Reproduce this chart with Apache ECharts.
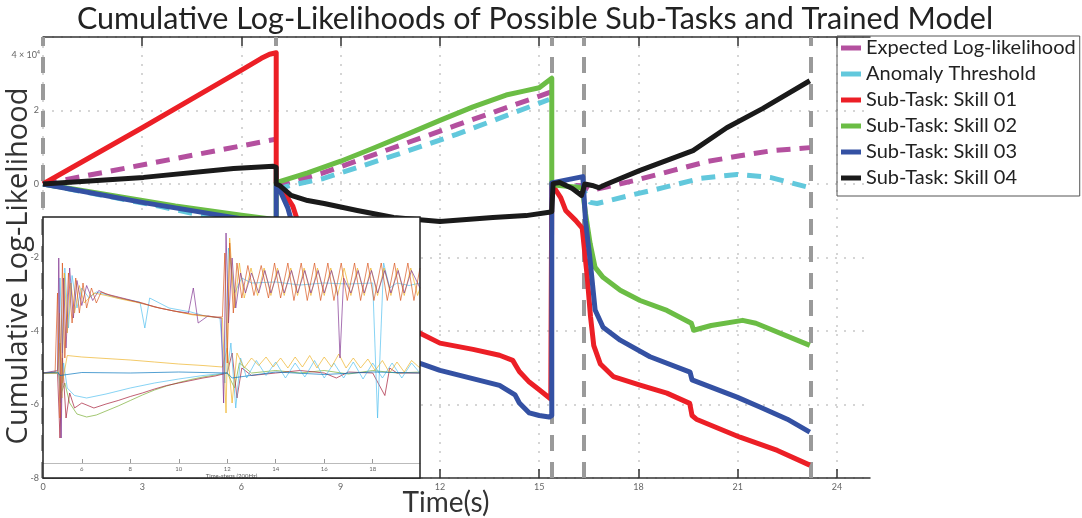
<!DOCTYPE html>
<html>
<head>
<meta charset="utf-8">
<title>Cumulative Log-Likelihoods</title>
<script src="https://cdn.jsdelivr.net/npm/echarts@6/dist/echarts.min.js"></script>
<style>
  html, body { margin: 0; padding: 0; background: #fff; }
  #chart { width: 1082px; height: 518px; }
</style>
</head>
<body>
<div id="chart"></div>
<script>
// time in seconds, values in units of 10^4
var xTicks = [0, 3, 6, 9, 12, 15, 18, 21, 24];
var dividerTimes = [0, 7.05, 15.38, 16.35, 23.2];

var expectedLL = [
  [0, 0], [7.05, 1.22], [7.05, '-'],
  [7.05, -0.05], [8.4, 0.28], [10.35, 0.91], [12.5, 1.6], [15.35, 2.5], [15.38, '-'],
  [15.4, 0.0], [16.3, -0.05], [16.54, -0.18], [17.9, 0.1], [19.05, 0.37], [20.07, 0.61],
  [21.07, 0.77], [22.07, 0.91], [23.18, 0.99]
];
var anomalyThreshold = [
  [0, 0], [3.5, -0.6], [7.05, -1.3], [7.05, '-'],
  [7.05, -0.15], [7.47, -0.04], [8.48, 0.15], [9.5, 0.45], [10.6, 0.77], [12.5, 1.35], [15.3, 2.3], [15.38, '-'],
  [15.4, 0.0], [16.3, -0.1], [16.54, -0.5], [16.75, -0.53], [17.75, -0.31], [18.75, -0.1],
  [19.86, 0.15], [20.98, 0.26], [21.98, 0.18], [23.18, -0.1]
];
var skill01 = [
  [0, 0], [3, 1.53], [6.0, 3.1], [6.6, 3.42], [6.85, 3.53], [7.05, 3.57], [7.05, 0.05],
  [7.3, -0.25], [7.55, -0.6], [7.75, -1.15], [8.0, -2.0], [8.5, -2.9], [9.5, -3.5], [10.5, -3.8],
  [11.4, -4.06], [12, -4.33], [13, -4.5], [13.8, -4.66], [14.2, -4.8], [14.3, -4.95], [14.4, -5.1],
  [14.7, -5.39], [15.0, -5.6], [15.35, -5.85], [15.38, 0.0], [15.65, -0.37], [15.8, -0.72],
  [16.1, -0.99], [16.3, -1.2], [16.45, -2.5], [16.55, -3.6], [16.65, -4.4], [16.85, -4.9],
  [17.24, -5.24], [18.05, -5.47], [18.86, -5.69], [19.55, -5.97], [19.62, -6.3], [19.75, -6.4],
  [21.07, -6.89], [22.2, -7.25], [23.18, -7.65]
];
var skill02 = [
  [0, 0], [2, -0.3], [4, -0.6], [6, -0.85], [7.05, -0.97], [7.05, 0.04], [8, 0.3], [9, 0.62],
  [10, 0.98], [11, 1.35], [12, 1.73], [13, 2.1], [14, 2.42], [14.5, 2.52], [15, 2.62], [15.38, 2.88],
  [15.38, -0.02], [16.3, -0.1], [16.4, -0.8], [16.54, -1.62], [16.69, -2.27], [16.93, -2.54],
  [17.45, -2.89], [18.05, -3.17], [18.86, -3.44], [19.6, -3.79], [19.67, -3.98], [20.2, -3.85],
  [21.15, -3.71], [21.55, -3.79], [23.18, -4.39]
];
var skill03 = [
  [0, 0], [3, -0.5], [5, -0.8], [7.05, -1.1], [7.05, -0.05], [7.15, -0.15], [7.4, -0.65],
  [7.55, -1.13], [7.8, -2.2], [8.3, -3.2], [9, -3.9], [10, -4.4], [11.4, -4.88], [12, -5.07],
  [13.8, -5.48], [14.27, -5.74], [14.4, -5.96], [14.7, -6.23], [15.0, -6.3], [15.3, -6.34],
  [15.38, -6.3], [15.38, 0.03], [16.32, 0.2], [16.4, -1.0], [16.53, -2.0], [16.69, -3.43],
  [16.93, -3.9], [17.45, -4.25], [18.35, -4.7], [19.56, -5.12], [19.62, -5.33], [20.98, -5.8],
  [21.67, -6.07], [22.5, -6.4], [23.18, -6.75]
];
var skill04 = [
  [0, 0], [3.04, 0.18], [5.76, 0.42], [6.96, 0.48], [7.05, 0.45], [7.05, 0.0], [7.15, -0.04],
  [7.5, -0.31], [8.0, -0.45], [8.5, -0.53], [9.5, -0.72], [10.6, -0.91], [12, -1.02], [13.6, -0.91],
  [14.6, -0.86], [15.3, -0.77], [15.38, -0.75], [15.42, 0.01], [15.62, 0.04], [16.0, -0.12],
  [16.28, -0.31], [16.38, 0.0], [16.6, -0.04], [16.8, -0.1], [17.05, 0.0], [18.05, 0.37],
  [19.65, 0.91], [20.67, 1.53], [21.75, 2.05], [23.18, 2.81]
];

// inset: raw sensor traces (time-steps axis)
var insetTicks = [6, 8, 10, 12, 14, 16, 18];
var insetBase = [
  [4.4, 0], [5, 0.02], [5.1, -0.05], [6, 0.01], [8, 0.0], [10, 0.02], [12, 0.0], [12.2, -0.1],
  [14, 0.02], [16, -0.03], [18, 0.02], [19.95, 0.0]
];
var insetUpperA = [
  [4.4, 0], [4.9, 0.02], [5.0, 1.6], [5.1, -0.9], [5.2, 2.2], [5.3, 0.3], [5.45, 2.0], [5.6, 1.0],
  [5.75, 1.9], [5.9, 1.2], [6.05, 1.8], [6.2, 1.3], [6.4, 1.7], [6.6, 1.4], [6.8, 1.62], [7.2, 1.55],
  [7.6, 1.5], [8.0, 1.45], [8.5, 1.4], [9.0, 1.32], [9.5, 1.27], [10.0, 1.22], [10.5, 1.18],
  [11.0, 1.15], [11.5, 1.12], [11.8, 1.12], [11.9, 2.4], [12.0, 0.2], [12.1, 2.6], [12.25, 1.2],
  [12.4, 2.2], [12.6, 1.5], [12.85, 2.15], [13.1, 1.55], [13.4, 2.15], [13.7, 1.5], [13.95, 2.2],
  [14.2, 1.5], [14.5, 2.2], [14.75, 1.45], [15.05, 2.2], [15.3, 1.45], [15.6, 2.2], [15.85, 1.45],
  [16.15, 2.2], [16.4, 1.45], [16.7, 2.2], [16.95, 1.45], [17.25, 2.2], [17.5, 1.45], [17.8, 2.2],
  [18.05, 1.45], [18.35, 2.2], [18.6, 1.45], [18.9, 2.2], [19.15, 1.45], [19.45, 2.2], [19.7, 1.45],
  [19.95, 2.1]
];
var insetUpperB = [
  [4.4, 0], [5.0, 0.05], [5.05, 2.3], [5.15, -1.3], [5.25, 1.9], [5.35, 0.5], [5.5, 2.1], [5.65, 1.1],
  [5.8, 1.85], [6.0, 1.35], [6.2, 1.75], [6.45, 1.45], [6.7, 1.65], [7.0, 1.58], [7.5, 1.52],
  [8.0, 1.46], [8.6, 1.38], [9.2, 1.3], [9.8, 1.24], [10.4, 1.2], [10.6, 1.7], [10.8, 1.0],
  [11.2, 1.14], [11.75, 1.1], [11.85, -0.6], [11.95, 2.8], [12.05, 1.0], [12.2, 2.3], [12.35, 1.3],
  [12.55, 2.0], [12.75, 1.6], [13.0, 2.0], [13.3, 1.6], [13.55, 2.05], [13.8, 1.6], [14.1, 2.05],
  [14.35, 1.6], [14.65, 2.05], [14.9, 1.6], [15.2, 2.05], [15.45, 1.6], [15.75, 2.05], [16.0, 1.6],
  [16.3, 2.05], [16.55, 1.6], [16.65, 0.3], [16.8, 1.9], [17.1, 1.6], [17.4, 2.05], [17.65, 1.6],
  [17.95, 2.05], [18.2, 1.6], [18.5, 2.05], [18.75, 1.6], [19.05, 2.05], [19.3, 1.6], [19.6, 2.05],
  [19.95, 1.7]
];
var insetUpperC = [
  [4.4, 0], [5.05, 0], [5.1, 1.9], [5.2, 0.4], [5.3, 2.1], [5.45, 0.9], [5.6, 1.95], [5.8, 1.3],
  [6.0, 1.7], [6.3, 1.5], [6.6, 1.62], [7.5, 1.5], [8.4, 1.42], [8.6, 0.9], [8.8, 1.5], [9.6, 1.3],
  [10.5, 1.22], [11.0, 1.15], [11.7, 1.1], [11.9, -0.2], [12.05, 2.5], [12.3, 1.6], [12.6, 1.9],
  [13, 1.8], [14, 1.82], [15, 1.76], [16, 1.8], [17, 1.78], [18, 1.8], [18.2, -0.9], [18.45, 2.2],
  [18.7, 1.7], [19, 1.8], [19.5, 1.75], [19.95, 1.8]
];
var insetUpperD = [
  [4.4, 0], [5.0, 0], [5.08, 1.2], [5.18, -0.5], [5.28, 2.0], [5.4, 0.8], [5.55, 1.8], [5.7, 1.2],
  [5.9, 1.75], [6.1, 1.4], [6.5, 1.6], [7, 1.55], [7.6, 1.48], [8.2, 1.42], [8.8, 1.35], [9.4, 1.28],
  [10, 1.22], [10.6, 1.16], [11.2, 1.13], [11.8, 1.1], [11.95, -0.8], [12.1, 2.7], [12.3, 1.3],
  [12.5, 2.2], [12.7, 1.5], [12.98, 2.1], [13.25, 1.55], [13.52, 2.1], [13.8, 1.55], [14.07, 2.1],
  [14.35, 1.55], [14.62, 2.1], [14.9, 1.55], [15.17, 2.1], [15.45, 1.55], [15.72, 2.1], [16.0, 1.55],
  [16.27, 2.1], [16.55, 1.55], [16.82, 2.1], [17.1, 1.55], [17.37, 2.1], [17.65, 1.55], [17.92, 2.1],
  [18.2, 1.55], [18.47, 2.1], [18.75, 1.55], [19.02, 2.1], [19.3, 1.55], [19.57, 2.1], [19.85, 1.55],
  [19.95, 1.7]
];
var insetMid = [
  [4.4, 0], [5.0, 0], [5.1, 0.6], [5.2, -0.2], [5.4, 0.35], [6, 0.32], [7, 0.29], [8, 0.26],
  [9, 0.22], [10, 0.18], [11, 0.15], [11.8, 0.12], [12.0, 0.5], [12.2, -0.6], [12.4, 0.4],
  [12.7, 0.1], [13, 0.3], [13.3, 0.15], [13.6, 0.32], [13.9, 0.12], [14.2, 0.3], [14.5, 0.1],
  [14.8, 0.32], [15.1, 0.12], [15.4, 0.35], [15.7, 0.1], [16, 0.32], [16.3, 0.12], [16.6, 0.38],
  [16.9, 0.1], [17.2, 0.3], [17.5, 0.1], [17.8, 0.28], [18.1, 0.05], [18.4, 0.25], [18.7, 0.0],
  [19.0, 0.22], [19.3, 0.02], [19.6, 0.25], [19.95, 0.1]
];
var insetLowA = [
  [4.4, 0], [5.05, 0], [5.15, -0.4], [5.3, -0.2], [5.5, -0.6], [5.8, -0.82], [6.2, -0.88],
  [6.6, -0.84], [7, -0.76], [7.5, -0.66], [8, -0.55], [8.5, -0.44], [9, -0.34], [9.5, -0.26],
  [10, -0.19], [10.5, -0.13], [11, -0.08], [11.5, -0.04], [12, 0], [12.3, -0.3], [12.5, 0.2],
  [13, 0.0], [14, 0.05], [15, 0.0], [16, 0.05], [17, -0.02], [18, 0.05], [19, 0.0], [19.95, 0.02]
];
var insetLowB = [
  [4.4, 0], [5.0, 0], [5.1, -1.3], [5.2, 0.3], [5.35, -0.9], [5.5, -0.4], [5.7, -0.7], [6.0, -0.6],
  [6.5, -0.7], [7, -0.62], [7.5, -0.55], [8, -0.47], [8.5, -0.4], [9, -0.32], [9.5, -0.25],
  [10, -0.2], [10.5, -0.15], [11, -0.1], [11.5, -0.06], [12, 0.0], [12.2, 0.4], [12.4, -0.5],
  [12.6, 0.1], [13, -0.05], [14, 0.0], [15, 0.05], [16, 0.0], [16.5, -0.1], [17, 0.02], [18, 0.0],
  [18.5, -0.45], [18.7, 0.1], [19, 0.0], [19.95, 0.0]
];
var insetLowC = [
  [4.4, 0], [5.05, 0], [5.12, -0.6], [5.25, 0.2], [5.4, -0.3], [5.7, -0.45], [6.2, -0.5], [7, -0.42],
  [8, -0.3], [9, -0.2], [10, -0.12], [11, -0.05], [12, 0.0], [12.15, 0.6], [12.35, -0.7], [12.55, 0.3],
  [12.8, -0.1], [13.2, 0.25], [13.6, -0.05], [14, 0.22], [14.4, -0.1], [14.8, 0.2], [15.2, -0.08],
  [15.6, 0.25], [16, -0.1], [16.4, 0.2], [16.8, -0.1], [17.2, 0.22], [17.6, -0.12], [18, 0.2],
  [18.4, -0.1], [18.8, 0.2], [19.2, -0.1], [19.6, 0.2], [19.95, 0.0]
];

var font = 'Lato';
var chart = echarts.init(document.getElementById('chart'));

function mainLine(name, data, color, dashed) {
  return {
    name: name, type: 'line', data: data, xAxisIndex: 0, yAxisIndex: 0,
    symbol: 'none', connectNulls: false, silent: true,
    lineStyle: { color: color, width: 5, type: dashed ? [14, 9] : 'solid', join: 'round' },
    itemStyle: { color: color }
  };
}
function insetLine(data, color) {
  return {
    type: 'line', data: data, xAxisIndex: 2, yAxisIndex: 1, z: 11,
    symbol: 'none', silent: true,
    lineStyle: { color: color, width: 0.8, opacity: 0.85 }
  };
}

var option = {
  animation: false,
  textStyle: { fontFamily: font },
  title: {
    text: 'Cumulative Log-Likelihoods of Possible Sub-Tasks and Trained Model',
    left: 530, top: -1, textAlign: 'center',
    textStyle: { fontFamily: font, fontSize: 30.5, fontWeight: 'normal', color: '#222' }
  },
  legend: {
    data: ['Expected Log-likelihood', 'Anomaly Threshold', 'Sub-Task: Skill 01',
           'Sub-Task: Skill 02', 'Sub-Task: Skill 03', 'Sub-Task: Skill 04'],
    orient: 'vertical', left: 837, top: 36,
    icon: 'rect', itemWidth: 20, itemHeight: 5, itemGap: 6,
    padding: [2, 4, 8, 4],
    borderColor: '#555', borderWidth: 1,
    textStyle: { fontFamily: font, fontSize: 20, color: '#222', lineHeight: 20 }
  },
  grid: [
    { left: 43, right: 212, top: 37, bottom: 40 },
    { left: 43, top: 217, width: 377, height: 246 }
  ],
  xAxis: [
    {
      type: 'value', gridIndex: 0, min: 0, max: 25,
      axisLine: { onZero: false, lineStyle: { color: '#333', width: 1.5 } },
      axisTick: { inside: true, length: 9, customValues: xTicks, lineStyle: { color: '#333', width: 1.5 } },
      axisLabel: { customValues: xTicks, fontSize: 9, color: '#666', margin: 5 },
      splitLine: { show: true, lineStyle: { color: '#c8c8c8', type: [2, 7], width: 1.5 } }
    },
    {
      type: 'value', gridIndex: 0, min: 0, max: 25, position: 'top',
      axisLine: { onZero: false, lineStyle: { color: '#333', width: 1.5 } },
      axisTick: { inside: true, length: 9, customValues: xTicks, lineStyle: { color: '#333', width: 1.5 } },
      axisLabel: { show: false },
      splitLine: { show: false }
    },
    {
      type: 'value', gridIndex: 1, min: 4.4, max: 19.95, z: 12,
      name: 'Time-steps (200Hz)', nameLocation: 'middle', nameGap: 10,
      nameTextStyle: { fontSize: 6, color: '#555' },
      axisLine: { onZero: false, lineStyle: { color: '#bbb', width: 1 } },
      axisTick: { inside: true, length: 4, customValues: insetTicks, lineStyle: { color: '#999' } },
      axisLabel: { customValues: insetTicks, fontSize: 6, color: '#666', margin: 3 },
      splitLine: { show: false }
    }
  ],
  yAxis: [
    {
      type: 'value', gridIndex: 0, min: -8, max: 4, interval: 2,
      axisLine: { show: false },
      axisTick: { show: false },
      axisLabel: {
        fontSize: 9, color: '#666', margin: 4,
        formatter: function (v) { return v === 4 ? '' : String(v); }
      },
      splitLine: { show: true, lineStyle: { color: '#c8c8c8', type: [2, 7], width: 1.5 } }
    },
    { type: 'value', gridIndex: 1, min: -1.8, max: 3.12, show: false }
  ],
  graphic: [
    { type: 'rect', z: 10, silent: true,
      shape: { x: 43, y: 217, width: 377, height: 261 }, style: { fill: '#fff' } },
    { type: 'rect', z: 13, silent: true,
      shape: { x: 43, y: 217, width: 377, height: 261 },
      style: { fill: 'none', stroke: '#222', lineWidth: 1.5 } },
    { type: 'text', x: 40, y: 55, silent: true,
      style: { text: '4 × 10⁴', fontSize: 9, fill: '#666', align: 'right', verticalAlign: 'middle', fontFamily: font } },
    { type: 'text', x: 19, y: 266, z: 14, rotation: Math.PI / 2, silent: true,
      style: { text: 'Cumulative Log-Likelihood', fontSize: 29, fill: '#333', align: 'center', verticalAlign: 'middle', fontFamily: 'Open Sans' } },
    { type: 'text', x: 446, y: 503, silent: true,
      style: { text: 'Time(s)', fontSize: 28, fill: '#333', align: 'center', verticalAlign: 'middle', fontFamily: font } }
  ],
  series: [
    {
      type: 'line', data: [], xAxisIndex: 0, yAxisIndex: 0, z: 1, silent: true,
      markLine: {
        z: 1, symbol: ['none', 'none'], silent: true, label: { show: false },
        lineStyle: { color: '#9a9a9a', width: 4, type: [16, 11] },
        data: dividerTimes.map(function (t) { return { xAxis: t }; })
      }
    },
    mainLine('Expected Log-likelihood', expectedLL, '#B4509F', true),
    mainLine('Anomaly Threshold', anomalyThreshold, '#62C8DC', true),
    mainLine('Sub-Task: Skill 01', skill01, '#EC1F26', false),
    mainLine('Sub-Task: Skill 02', skill02, '#6BBD45', false),
    mainLine('Sub-Task: Skill 03', skill03, '#3451A3', false),
    mainLine('Sub-Task: Skill 04', skill04, '#1A1A1A', false),
    insetLine(insetLowA, '#77AC30'),
    insetLine(insetLowB, '#A2142F'),
    insetLine(insetLowC, '#4DBEEE'),
    insetLine(insetMid, '#EDB120'),
    insetLine(insetUpperC, '#4DBEEE'),
    insetLine(insetUpperD, '#EDB120'),
    insetLine(insetUpperB, '#7E2F8E'),
    insetLine(insetUpperA, '#D95319'),
    insetLine(insetBase, '#0072BD')
  ]
};
chart.setOption(option);
</script>
</body>
</html>
